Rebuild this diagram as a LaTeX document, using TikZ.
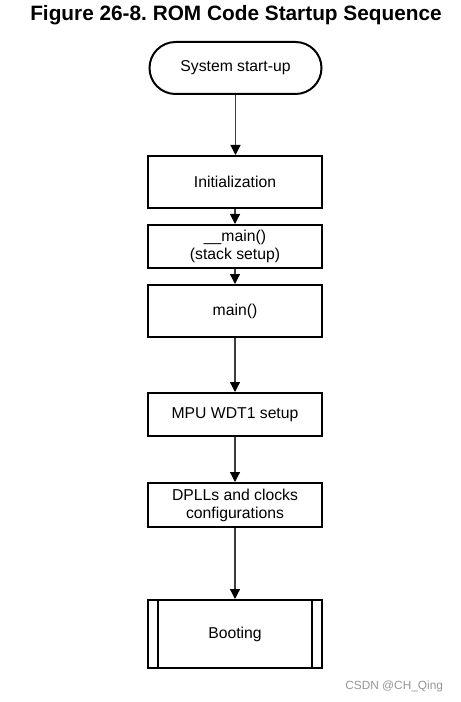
\documentclass[tikz,border=0pt]{standalone}
\usepackage{fontspec}
\setmainfont{Liberation Sans}
\usetikzlibrary{arrows.meta}
\frenchspacing

\tikzset{every picture/.style={line width=0.75pt}}
\tikzset{
  stepbox/.style={draw, line width=1.5pt, minimum width=130.5pt, inner sep=0.75pt, align=center, font=\fontsize{11.8}{13.5}\selectfont},
  termbox/.style={stepbox, rounded corners=19.5pt, minimum width=129pt, minimum height=39pt},
  flow/.style={draw={rgb,255:red,60;green,60;blue,60}, line width=0.9pt, -{Triangle[length=7.5pt,width=7.5pt,black]}}
}

\begin{document}
\begin{tikzpicture}[x=0.75pt,y=0.75pt,yscale=-1,xscale=1]
\useasboundingbox (0,0) rectangle (460,702);

% Title
\node (title) at (236,15) {\fontsize{15.6}{18}\selectfont\bfseries Figure 26-8. ROM Code Startup Sequence};

% Start
\node [termbox] (startup) at (235.5,68) {System start-up};
% Steps
\node [stepbox, minimum height=39pt] (init) at (235,182) {Initialization};
\node [stepbox, minimum height=32.25pt] (stackmain) at (235,246.5) {\_\_main()\\(stack setup)};
\node [stepbox, minimum height=39pt] (mainfn) at (235,311) {main()};
\node [stepbox, minimum height=32.25pt] (wdt) at (235,414.5) {MPU WDT1 setup};
\node [stepbox, minimum height=33pt] (dpll) at (235,505) {DPLLs and clocks\\configurations};
\node [stepbox, minimum height=51pt] (boot) at (235,634) {Booting};
\draw [line width=1.1pt] ([xshift=8.25pt]boot.north west) -- ([xshift=8.25pt]boot.south west);
\draw [line width=1.1pt] ([xshift=-8.25pt]boot.north east) -- ([xshift=-8.25pt]boot.south east);

% Arrows
\draw [flow] (startup) -- (startup |- init.north);
\draw [flow] (init) -- (stackmain);
\draw [flow] (stackmain) -- (mainfn);
\draw [flow] (mainfn) -- (wdt);
\draw [flow] (wdt) -- (dpll);
\draw [flow] (dpll) -- (boot);

% Watermark
\node [anchor=east, text={rgb,255:red,150;green,150;blue,150}] (mark) at (448,686) {\fontsize{8.9}{10}\selectfont CSDN @CH\_Qing};

\end{tikzpicture}
\end{document}
